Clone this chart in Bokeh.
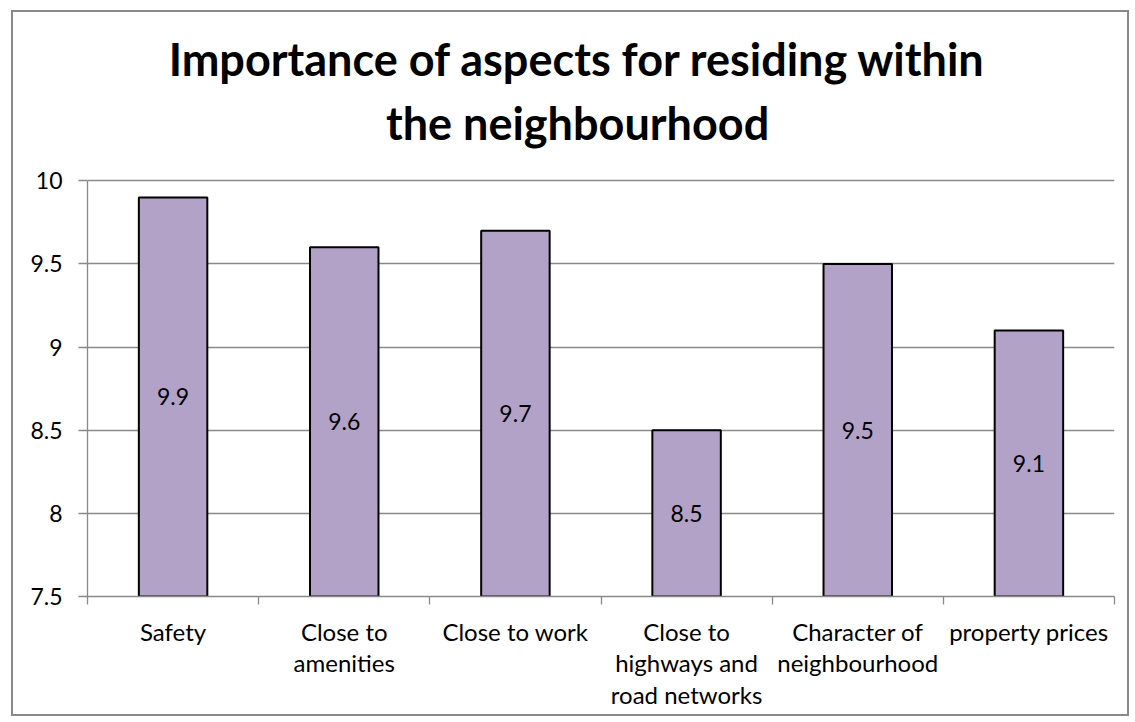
from bokeh.plotting import figure
from bokeh.models import Range1d, FixedTicker, ColumnDataSource
from bokeh.core.properties import value
from bokeh.embed import file_html
from bokeh.resources import INLINE

# ---- data ----
categories = ["Safety", "Close to\namenities", "Close to work",
              "Close to\nhighways and\nroad networks",
              "Character of\nneighbourhood", "property prices"]
values = [9.9, 9.6, 9.7, 8.5, 9.5, 9.1]
value_labels = ["9.9", "9.6", "9.7", "8.5", "9.5", "9.1"]
y_ticks = [7.5, 8, 8.5, 9, 9.5, 10]
y_tick_labels = ["7.5", "8", "8.5", "9", "9.5", "10"]
title_lines = ["Importance of aspects for residing within", "the neighbourhood"]
y_min, y_max = 7.5, 10

GRAY = "#898989"
FONT = "Lato"

n = len(categories)
centers = [i + 0.5 for i in range(n)]
boundaries = [float(i) for i in range(n + 1)]

src = ColumnDataSource(dict(
    x=centers,
    top=values,
    mid=[(y_min + v) / 2 for v in values],
    lab=value_labels,
))

# the frame is extended above the value axis to hold the title text
TOP_EXT = 11.0
p = figure(width=1118, height=706,
           x_range=Range1d(0, n), y_range=Range1d(y_min, TOP_EXT),
           toolbar_location=None, output_backend="svg",
           min_border_left=74, min_border_right=17,
           min_border_top=2, min_border_bottom=122)
p.styles = {"border": "2px solid " + GRAY, "margin-left": "11px", "margin-top": "10px"}
p.outline_line_color = None
p.background_fill_color = "white"
p.border_fill_color = "white"
p.title.text = ""

# title: two centred lines (positions in data units of the extended frame)
title_src = ColumnDataSource(dict(x=[2.863, 2.863], y=[10.735, 10.35], t=title_lines))
p.text(x="x", y="y", text="t", source=title_src,
       text_align="center", text_baseline="alphabetic",
       text_font=value(FONT), text_font_size="45px",
       text_font_style="bold", text_color="black")

# bars
p.vbar(x="x", top="top", bottom=y_min, width=0.4, source=src,
       fill_color="#B3A2C7", line_color="black", line_width=2)

# value labels
p.text(x="x", y="mid", text="lab", source=src,
       text_align="center", text_baseline="middle",
       text_font=value(FONT), text_font_size="23px", text_color="black")

# grid
p.xgrid.visible = False
p.ygrid.grid_line_color = GRAY
p.ygrid.grid_line_width = 1.3

# y axis
yax = p.yaxis[0]
yax.ticker = FixedTicker(ticks=y_ticks)
yax.bounds = (y_min, y_max)
yax.major_label_overrides = {t: s for t, s in zip(y_ticks, y_tick_labels)}
yax.axis_line_color = GRAY
yax.axis_line_width = 1.3
yax.major_tick_line_color = GRAY
yax.major_tick_line_width = 1.3
yax.major_tick_out = 9
yax.major_tick_in = 0
yax.minor_tick_line_color = None
yax.major_label_standoff = 16
yax.major_label_text_font = FONT
yax.major_label_text_font_size = "23px"
yax.major_label_text_color = "black"

# x axis
xax = p.xaxis[0]
xax.ticker = FixedTicker(ticks=centers, minor_ticks=boundaries)
xax.major_label_overrides = {c: s for c, s in zip(centers, categories)}
xax.axis_line_color = GRAY
xax.axis_line_width = 1.3
xax.major_tick_line_color = None
xax.major_tick_out = 0
xax.major_tick_in = 0
xax.minor_tick_line_color = GRAY
xax.minor_tick_line_width = 1.3
xax.minor_tick_out = 8
xax.minor_tick_in = 0
xax.major_label_standoff = 12
xax.major_label_text_font = FONT
xax.major_label_text_font_size = "24px"
xax.major_label_text_line_height = 1.1
xax.major_label_text_color = "black"

open("out.html", "w").write(file_html(p, INLINE))
